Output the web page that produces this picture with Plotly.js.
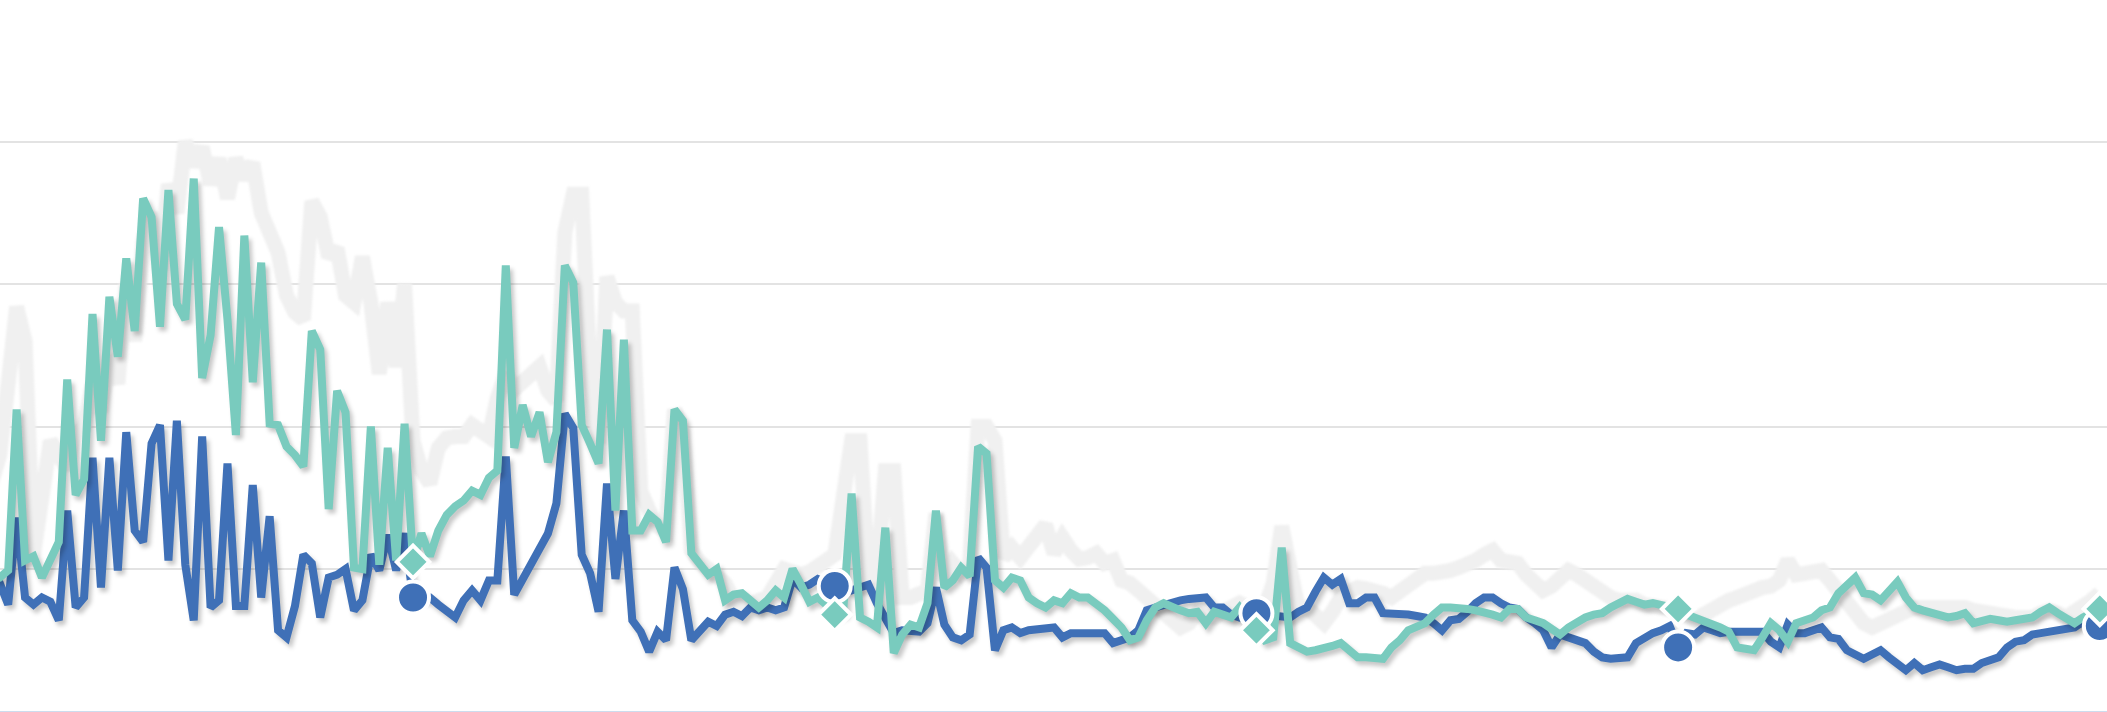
<!DOCTYPE html>
<html>
<head>
<meta charset="utf-8">
<script src="https://cdn.plot.ly/plotly-3.0.1.min.js"></script>
<style>
  html, body { margin: 0; padding: 0; background: #ffffff; overflow: hidden; }
  #chart { width: 2107px; height: 712px; }
  .scatterlayer .trace:nth-child(2) path.js-line,
  .scatterlayer .trace:nth-child(3) path.js-line {
    filter: drop-shadow(3px 4px 2px rgba(0,0,0,0.22));
  }
  .scatterlayer .trace:nth-child(1) path.js-line {
    filter: blur(1px);
  }
</style>
</head>
<body>
<div id="chart"></div>
<script>
// period index 0..250 (category positions)
const periods = Array.from({length: 251}, (_, i) => i);
const markerPeriods = [50, 100, 150, 200, 250];

const seriesBlue = [
  0.95,
  0.90,0.75,1.36,0.80,0.75,0.80,0.77,0.64,1.41,0.73,
  0.80,1.78,0.87,1.78,0.99,1.96,1.27,1.19,1.88,2.01,
  1.06,2.04,1.03,0.64,1.93,0.73,0.78,1.74,0.74,0.74,
  1.59,0.80,1.37,0.57,0.52,0.74,1.10,1.04,0.66,0.94,
  0.96,1.00,0.71,0.78,1.10,0.99,1.24,0.99,1.25,0.80,
  0.80,0.80,0.75,0.70,0.66,0.78,0.85,0.78,0.92,0.92,
  1.79,0.82,0.93,1.04,1.16,1.25,1.46,2.09,1.99,1.10,
  0.97,0.70,1.60,0.93,1.41,0.64,0.56,0.42,0.56,0.50,
  1.01,0.86,0.50,0.57,0.63,0.60,0.68,0.70,0.67,0.73,
  0.71,0.73,0.71,0.73,0.93,0.87,0.89,0.93,0.90,0.88,
  0.88,0.85,0.87,0.89,0.76,0.65,0.55,0.57,0.56,0.56,
  0.62,0.87,0.61,0.52,0.50,0.54,1.08,1.01,0.43,0.57,
  0.59,0.55,0.57,0.58,0.59,0.59,0.52,0.55,0.55,0.55,
  0.55,0.55,0.48,0.50,0.52,0.57,0.71,0.73,0.75,0.77,
  0.78,0.79,0.80,0.80,0.73,0.73,0.68,0.66,0.68,0.69,
  0.68,0.67,0.66,0.66,0.70,0.73,0.84,0.94,0.89,0.93,
  0.76,0.76,0.80,0.80,0.69,0.69,0.69,0.68,0.67,0.66,
  0.62,0.57,0.64,0.65,0.70,0.76,0.80,0.80,0.76,0.73,
  0.72,0.66,0.62,0.57,0.45,0.54,0.52,0.50,0.48,0.42,
  0.38,0.37,0.38,0.38,0.48,0.52,0.55,0.57,0.60,0.45,
  0.55,0.54,0.59,0.57,0.55,0.56,0.56,0.56,0.57,0.56,
  0.49,0.45,0.61,0.55,0.55,0.57,0.59,0.52,0.51,0.43,
  0.40,0.37,0.40,0.43,0.38,0.34,0.29,0.34,0.29,0.31,
  0.33,0.31,0.29,0.30,0.30,0.34,0.36,0.38,0.45,0.49,
  0.50,0.54,0.55,0.56,0.57,0.58,0.59,0.63,0.64,0.60
];

const seriesTeal = [
  0.95,
  0.94,0.99,2.12,1.06,1.09,0.94,1.06,1.19,2.33,1.52,
  1.63,2.79,1.90,2.91,2.49,3.18,2.67,3.60,3.47,2.70,
  3.66,2.86,2.75,3.74,2.34,2.64,3.40,2.75,1.94,3.34,
  2.31,3.15,2.02,2.01,1.86,1.80,1.72,2.67,2.54,1.42,
  2.25,2.10,1.01,1.00,2.00,1.03,1.85,1.06,2.02,1.05,
  1.25,1.09,1.27,1.38,1.44,1.48,1.55,1.52,1.64,1.69,
  3.13,1.85,2.15,1.93,2.10,1.75,1.96,3.13,3.01,2.01,
  1.88,1.74,2.68,1.41,2.61,1.27,1.27,1.38,1.33,1.19,
  2.12,2.04,1.11,1.04,0.96,1.00,0.78,0.82,0.83,0.78,
  0.73,0.78,0.85,0.80,1.00,0.89,0.77,0.80,0.75,0.68,
  0.70,1.53,0.66,0.63,0.59,1.29,0.41,0.54,0.61,0.59,
  0.76,1.41,0.87,0.92,1.01,0.95,1.86,1.81,0.92,0.87,
  0.94,0.92,0.80,0.76,0.73,0.78,0.76,0.83,0.80,0.80,
  0.76,0.71,0.65,0.59,0.50,0.52,0.64,0.73,0.76,0.73,
  0.71,0.69,0.70,0.62,0.70,0.68,0.66,0.73,0.65,0.57,
  0.50,0.52,1.15,0.48,0.45,0.42,0.43,0.44,0.46,0.48,
  0.42,0.38,0.38,0.37,0.37,0.45,0.50,0.57,0.60,0.62,
  0.68,0.73,0.73,0.73,0.72,0.71,0.70,0.68,0.66,0.72,
  0.72,0.66,0.64,0.62,0.58,0.54,0.59,0.63,0.66,0.68,
  0.69,0.73,0.76,0.79,0.77,0.75,0.76,0.75,0.74,0.72,
  0.68,0.66,0.64,0.62,0.59,0.56,0.45,0.44,0.43,0.52,
  0.62,0.57,0.49,0.62,0.64,0.66,0.71,0.73,0.83,0.88,
  0.94,0.83,0.82,0.78,0.85,0.91,0.80,0.73,0.71,0.69,
  0.67,0.66,0.67,0.69,0.62,0.64,0.65,0.64,0.63,0.64,
  0.65,0.66,0.70,0.73,0.69,0.66,0.62,0.66,0.69,0.72
];

const seriesGray = [
  1.60,
  1.80,2.30,2.84,2.60,1.10,1.50,1.90,1.80,1.70,1.95,
  2.00,2.30,2.10,2.50,2.30,3.00,2.60,3.30,3.50,3.10,
  3.70,3.50,4.00,3.83,3.96,3.70,3.88,3.60,3.88,3.74,
  3.85,3.50,3.35,3.22,2.92,2.80,2.75,3.58,3.47,3.19,
  3.25,2.92,2.87,3.19,2.87,2.37,2.87,2.42,3.00,1.90,
  1.69,1.60,1.85,1.92,1.93,1.93,2.01,1.96,1.93,2.20,
  2.37,2.26,2.31,2.38,2.42,2.25,2.18,3.36,3.63,3.63,
  2.37,1.88,3.05,2.87,2.81,2.81,1.55,1.41,1.30,1.27,
  2.12,1.96,1.13,1.05,1.00,0.94,0.90,0.78,0.76,0.75,
  0.78,0.80,0.90,1.00,0.98,0.96,0.98,1.03,1.05,1.10,
  1.50,1.90,1.90,0.94,0.94,1.69,1.69,0.80,0.80,0.82,
  0.85,1.39,0.92,1.04,0.97,1.04,2.00,2.00,1.90,1.08,
  1.15,1.08,1.15,1.25,1.31,1.11,1.22,1.13,1.07,1.08,
  1.11,1.04,1.06,0.92,0.90,0.85,0.80,0.73,0.68,0.62,
  0.59,0.62,0.69,0.67,0.66,0.70,0.74,0.76,0.73,0.71,
  0.73,0.90,1.30,1.00,0.71,0.73,0.68,0.62,0.70,0.80,
  0.84,0.87,0.86,0.85,0.83,0.80,0.85,0.90,0.94,0.97,
  0.97,0.97,0.99,1.01,1.03,1.06,1.10,1.13,1.06,1.05,
  1.04,0.96,0.90,0.85,0.88,0.93,0.99,0.96,0.92,0.86,
  0.82,0.80,0.78,0.78,0.78,0.75,0.73,0.73,0.72,0.70,
  0.66,0.64,0.68,0.72,0.75,0.78,0.80,0.83,0.85,0.87,
  0.88,0.92,1.06,0.96,0.97,0.99,0.99,0.92,0.85,0.77,
  0.68,0.62,0.59,0.62,0.66,0.69,0.72,0.73,0.73,0.73,
  0.73,0.75,0.75,0.73,0.71,0.69,0.69,0.68,0.66,0.66,
  0.66,0.66,0.69,0.71,0.69,0.66,0.70,0.73,0.78,0.83
];

const gridTicks = [0, 1, 2, 3, 4];

const BLUE = '#3f70b7';
const TEAL = '#79cbbe';
const GRAY = '#f0f0f0';

const blueMarkY = markerPeriods.map(p => seriesBlue[p]);
const tealMarkY = markerPeriods.map(p => seriesTeal[p]);

const traces = [
  { x: periods, y: seriesGray, type: 'scatter', mode: 'lines',
    line: { color: GRAY, width: 15 }, hoverinfo: 'skip', showlegend: false },
  { x: periods, y: seriesBlue, type: 'scatter', mode: 'lines',
    line: { color: BLUE, width: 8 }, hoverinfo: 'skip', showlegend: false },
  { x: periods, y: seriesTeal, type: 'scatter', mode: 'lines',
    line: { color: TEAL, width: 8 }, hoverinfo: 'skip', showlegend: false },
  { x: markerPeriods, y: blueMarkY, type: 'scatter', mode: 'markers',
    marker: { symbol: 'circle', size: 32, color: BLUE, line: { color: '#ffffff', width: 4 } },
    hoverinfo: 'skip', showlegend: false },
  { x: markerPeriods, y: tealMarkY, type: 'scatter', mode: 'markers',
    marker: { symbol: 'diamond', size: 25, color: TEAL, line: { color: '#ffffff', width: 4 } },
    hoverinfo: 'skip', showlegend: false }
];

const layout = {
  width: 2107, height: 712,
  margin: { l: 0, r: 0, t: 0, b: 0, pad: 0 },
  paper_bgcolor: '#ffffff', plot_bgcolor: '#ffffff',
  showlegend: false,
  xaxis: { range: [1.03, 250.85], showgrid: false, zeroline: false,
           showticklabels: false, ticks: '', showline: false, fixedrange: true },
  yaxis: { range: [-0.0035, 4.993], tickvals: gridTicks, showticklabels: false, ticks: '',
           showgrid: true, gridcolor: '#e3e3e3', gridwidth: 2,
           zeroline: true, zerolinecolor: '#cddcee', zerolinewidth: 2,
           showline: false, fixedrange: true }
};

Plotly.newPlot('chart', traces, layout, { staticPlot: true, displayModeBar: false });
</script>
</body>
</html>
